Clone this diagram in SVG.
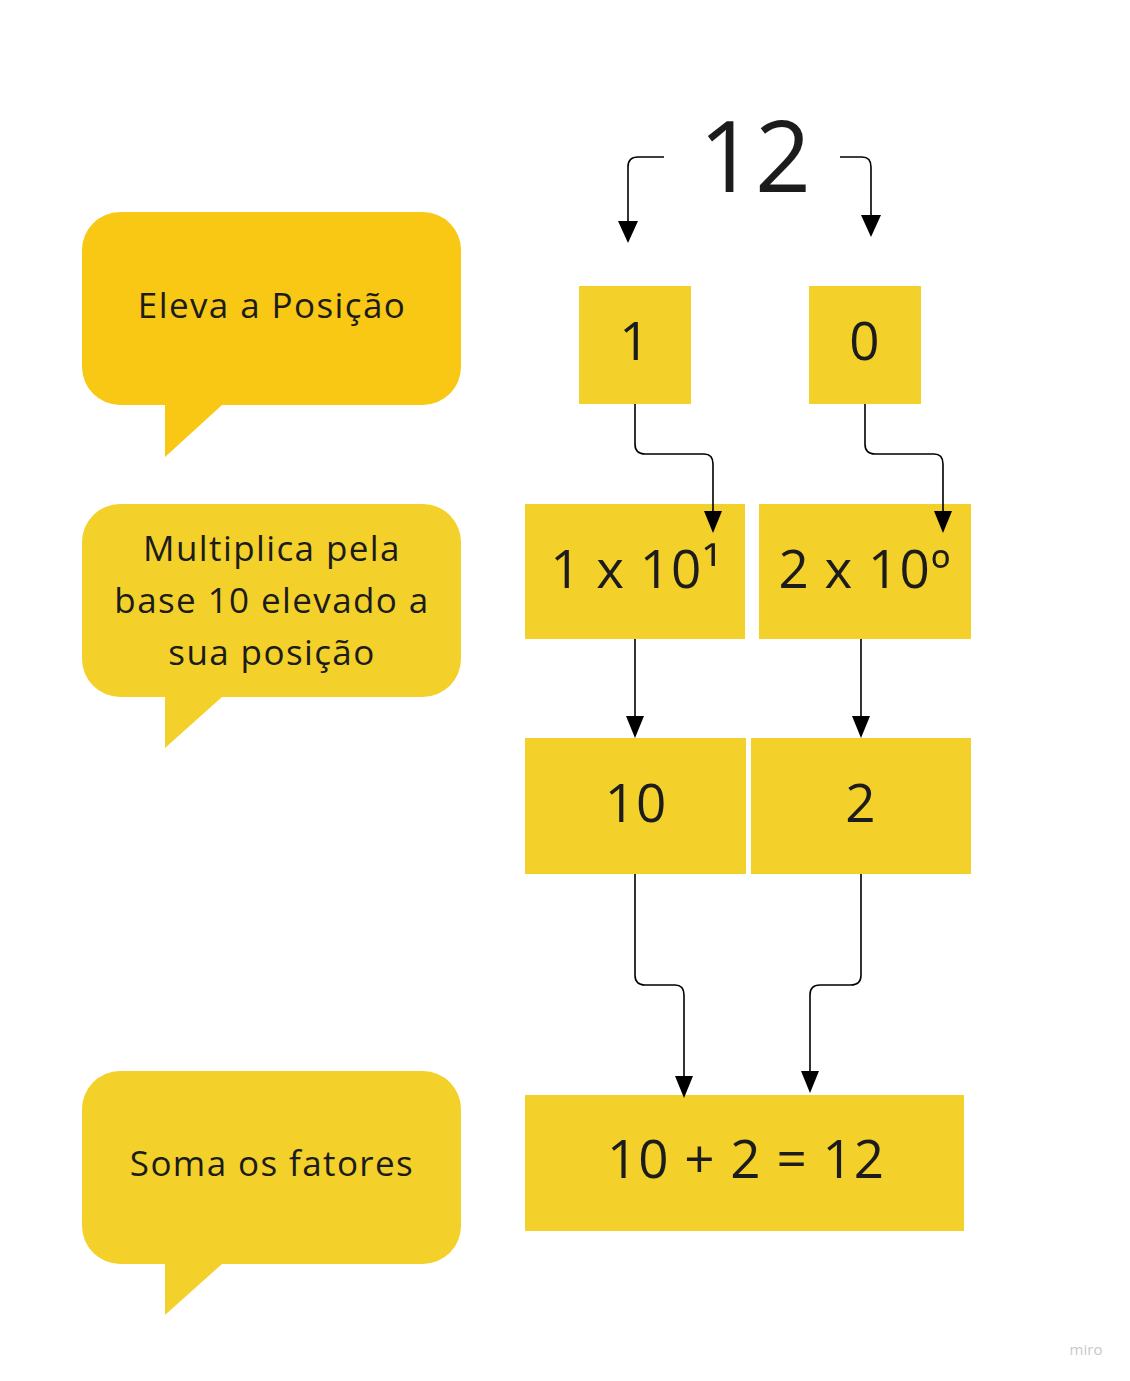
<svg xmlns="http://www.w3.org/2000/svg" width="1130" height="1381" viewBox="0 0 1130 1381">
<style>
text{font-family:"Open Sans","Noto Sans",sans-serif;fill:#1c1c1c;text-anchor:middle}
.box{fill:#F3D12A}
.c{fill:none;stroke:#000;stroke-width:1.6}
.lbl{font-size:35px;letter-spacing:1.4px}
.big{font-size:53px;letter-spacing:1px}
</style>
<rect width="1130" height="1381" fill="#fff"/>

<g id="bubble-eleva">
<path d="M120,212 H423 A38,38 0 0 1 461,250 V367 A38,38 0 0 1 423,405 H222 L165,457 V405 H120 A38,38 0 0 1 82,367 V250 A38,38 0 0 1 120,212 Z" fill="#F8C814"/>
<text class="lbl" x="272" y="318">Eleva a Posição</text>
</g>
<g id="bubble-multiplica">
<path d="M120,504 H423 A38,38 0 0 1 461,542 V659 A38,38 0 0 1 423,697 H222 L165,748 V697 H120 A38,38 0 0 1 82,659 V542 A38,38 0 0 1 120,504 Z" fill="#F3D12A"/>
<text class="lbl" x="272" y="561">Multiplica pela</text>
<text class="lbl" x="272" y="613">base 10 elevado a</text>
<text class="lbl" x="272" y="665">sua posição</text>
</g>
<g id="bubble-soma">
<path d="M120,1071 H423 A38,38 0 0 1 461,1109 V1226 A38,38 0 0 1 423,1264 H222 L165,1315 V1264 H120 A38,38 0 0 1 82,1226 V1109 A38,38 0 0 1 120,1071 Z" fill="#F3D12A"/>
<text class="lbl" x="272" y="1176">Soma os fatores</text>
</g>

<g id="title-12">
<text x="755" y="192" font-size="98">12</text>
</g>

<g id="box-1"><rect class="box" x="579" y="286" width="112" height="118"/><text class="big" x="635" y="360">1</text></g>
<g id="box-0"><rect class="box" x="809" y="286" width="112" height="118"/><text class="big" x="865" y="360">0</text></g>
<g id="box-1x10"><rect class="box" x="525" y="504" width="220" height="135"/><text class="big" x="636" y="588">1 x 10¹</text></g>
<g id="box-2x10"><rect class="box" x="759" y="504" width="212" height="135"/><text class="big" x="865" y="588">2 x 10º</text></g>
<g id="box-10"><rect class="box" x="525" y="738" width="221" height="136"/><text class="big" x="636" y="822">10</text></g>
<g id="box-2"><rect class="box" x="751" y="738" width="220" height="136"/><text class="big" x="861" y="822">2</text></g>
<g id="box-sum"><rect class="box" x="525" y="1095" width="439" height="136"/><text class="big" x="746" y="1178">10 + 2 = 12</text></g>

<g id="connectors">
<path class="c" d="M664,157 H638 Q628,157 628,167 V221"/>
<path d="M618,221 L638,221 L628,243 Z"/>
<path class="c" d="M840,157 H862 Q871,157 871,167 V215"/>
<path d="M861,215 L881,215 L871,237 Z"/>
<path class="c" d="M635,404 V444 Q635,454 645,454 H704 Q713,454 713,464 V512"/>
<path d="M704,511 L722,511 L713,533 Z"/>
<path class="c" d="M865,404 V444 Q865,454 875,454 H934 Q943,454 943,464 V512"/>
<path d="M934,511 L952,511 L943,533 Z"/>
<path class="c" d="M635,639 V717"/>
<path d="M626,716 L644,716 L635,738 Z"/>
<path class="c" d="M861,639 V717"/>
<path d="M852,716 L870,716 L861,738 Z"/>
<path class="c" d="M635,874 V975 Q635,985 645,985 H675 Q684,985 684,995 V1077"/>
<path d="M675,1076 L693,1076 L684,1098 Z"/>
<path class="c" d="M861,874 V975 Q861,985 851,985 H820 Q810,985 810,995 V1072"/>
<path d="M801,1071 L819,1071 L810,1093 Z"/>
</g>

<text x="1086" y="1355" font-size="15" style="fill:#c8c8cc">miro</text>
</svg>
